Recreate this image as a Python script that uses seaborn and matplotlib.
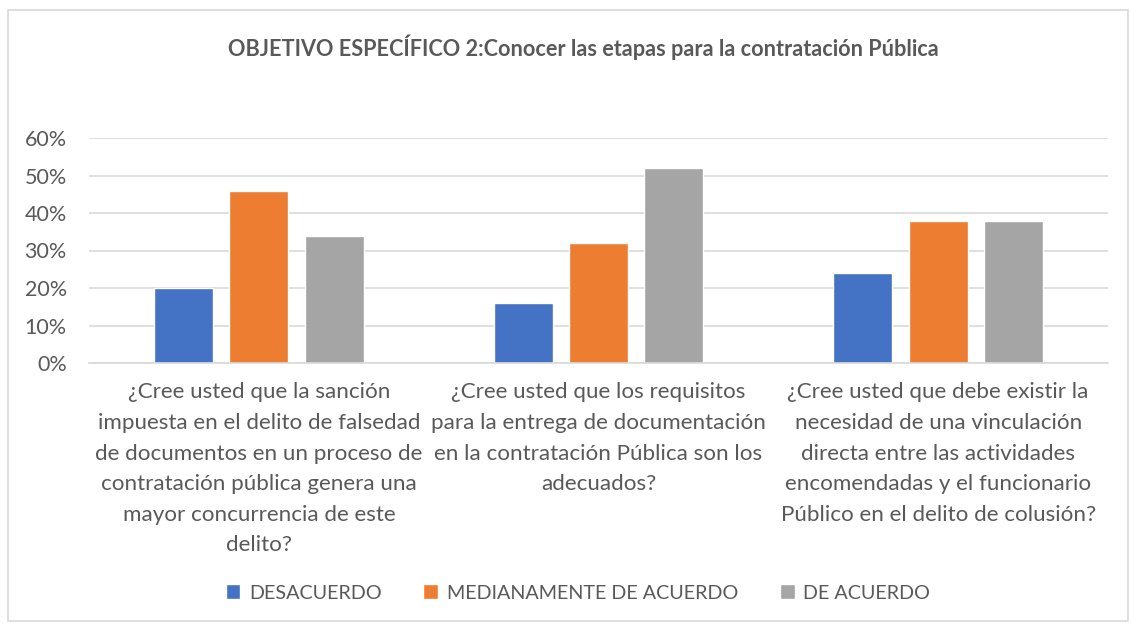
import numpy as np
import pandas as pd
import seaborn as sns
import matplotlib.pyplot as plt
from matplotlib.patches import Rectangle

questions = [
    '¿Cree usted que la sanción\nimpuesta en el delito de falsedad\nde documentos en un proceso de\ncontratación pública genera una\nmayor concurrencia de este\ndelito?',
    '¿Cree usted que los requisitos\npara la entrega de documentación\nen la contratación Pública son los\nadecuados?',
    '¿Cree usted que debe existir la\nnecesidad de una vinculación\ndirecta entre las actividades\nencomendadas y el funcionario\nPúblico en el delito de colusión?',
]
responses = ['DESACUERDO', 'MEDIANAMENTE DE ACUERDO', 'DE ACUERDO']
desacuerdo = [0.20, 0.16, 0.24]
medianamente = [0.46, 0.32, 0.38]
de_acuerdo = [0.34, 0.52, 0.38]
colors = ['#4472C4', '#ED7D31', '#A5A5A5']
title = 'OBJETIVO ESPECÍFICO 2:Conocer las etapas para la contratación Pública'

if __name__ == '__main__':
    text_color = '#595959'
    grid_color = '#D9D9D9'

    df = pd.DataFrame({'question': questions * 3,
                       'response': np.repeat(responses, 3),
                       'value': desacuerdo + medianamente + de_acuerdo})

    sns.set_style('white')
    plt.rcParams['font.family'] = ['Lato', 'DejaVu Sans']

    f = plt.figure(figsize=(11.31, 6.26), dpi=100)
    ax = f.add_axes([89 / 1131, 1 - 363 / 626, 1019 / 1131, 225 / 626])

    sns.barplot(df, x='question', y='value', hue='response', hue_order=responses, palette=colors,
                width=0.666, gap=0.216, saturation=1, ax=ax, legend=True)

    ax.set(ylim=(0, 0.6), xlim=(-0.5, 2.5), xlabel='', ylabel='')
    ax.set_yticks(np.arange(0, 0.61, 0.1))
    ax.set_yticklabels([f'{int(round(v * 100))}%' for v in np.arange(0, 0.61, 0.1)])
    ax.yaxis.grid(True, color=grid_color, linewidth=1.2)
    ax.set_axisbelow(True)
    for s in ['left', 'right', 'top']:
        ax.spines[s].set_visible(False)
    ax.spines['bottom'].set_color(grid_color)
    ax.spines['bottom'].set_linewidth(1.2)
    ax.tick_params(axis='y', length=0, pad=16, labelsize=15.5, labelcolor=text_color)
    ax.tick_params(axis='x', length=0, pad=14, labelsize=16.1, labelcolor=text_color)
    for t in ax.get_xticklabels():
        t.set_linespacing(1.66)
        t.set_horizontalalignment('center')

    handles, labels = ax.get_legend_handles_labels()
    ax.get_legend().remove()
    f.legend(handles, labels, loc='center', bbox_to_anchor=(578 / 1131, 1 - 593 / 626), ncol=3, frameon=False,
             handlelength=0.75, handleheight=0.75, handletextpad=0.45, columnspacing=2.1, fontsize=14.2,
             labelcolor=text_color)

    f.text(583 / 1131, 1 - 47 / 626, title, ha='center', va='center', fontsize=15.6, fontweight='bold',
           color=text_color)

    f.patches.append(Rectangle((8 / 1131, 1 - 621 / 626), 1120 / 1131, 611 / 626, transform=f.transFigure,
                               fill=False, edgecolor=grid_color, linewidth=1.2))

    plt.savefig('out.png', dpi=100)
